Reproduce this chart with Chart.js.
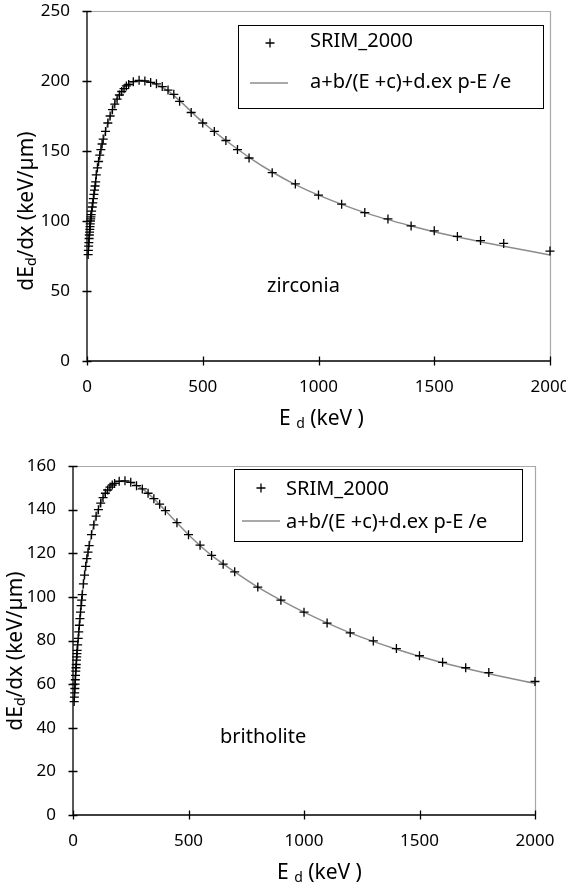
<!DOCTYPE html>
<html>
<head>
<meta charset="utf-8">
<script src="https://cdn.jsdelivr.net/npm/chart.js@4.4.1/dist/chart.umd.min.js"></script>
<style>
  body { margin: 0; background: #fff; width: 566px; height: 889px; position: relative; overflow: hidden; }
  canvas { position: absolute; left: 0; }
  #zirconiaChart { top: 0; }
  #britholiteChart { top: 440px; }
</style>
</head>
<body>
<canvas id="zirconiaChart" width="566" height="440"></canvas>
<canvas id="britholiteChart" width="566" height="449"></canvas>
<script>
// SRIM energies (keV)
const energy = [5, 6, 7, 8, 9, 10, 11, 12, 13, 14, 15, 16, 17, 18, 20, 22.5, 25, 27.5, 30, 32.5, 35, 37.5, 40, 45,
  50, 55, 60, 65, 70, 80, 90, 100, 110, 120, 130, 140, 150, 160, 170, 180, 200, 225, 250, 275, 300, 325, 350, 375,
  400, 450, 500, 550, 600, 650, 700, 800, 900, 1000, 1100, 1200, 1300, 1400, 1500, 1600, 1700, 1800, 2000];

// dEd/dx (keV/µm)
const zirconia = [76, 79, 82, 84.5, 87.5, 90, 92, 94, 96, 98, 100, 101.5, 103, 104.5, 107, 110, 113, 116, 119, 122, 125, 128, 133, 138,
  142.5, 147, 151, 155, 158.5, 164, 170, 175, 179.5, 183.5, 187, 190, 192.5, 194.5, 196.5, 197.5, 199.5, 200.5, 200, 199, 198, 196, 193.5, 190.5,
  185.5, 177.5, 170, 164, 157.5, 151, 145, 134.5, 126.5, 118.5, 112, 106, 101.5, 96.5, 93, 89, 86, 84, 78.5];

const britholite = [52, 54, 56, 58, 60, 62, 64, 66, 67.5, 69, 71, 72.5, 74, 75.5, 78, 81, 84, 87, 90, 93, 96, 98.5, 101, 106,
  110, 114, 117.5, 120.5, 123.5, 128.5, 133, 137, 140, 143, 145.5, 147.5, 149, 150.3, 151.3, 152, 153, 153.2, 152.5, 151, 149.5, 147.5, 145, 142.5,
  139.5, 134, 128.5, 123.7, 119, 115, 111.5, 104.5, 98.5, 93, 88, 83.5, 79.8, 76.3, 73, 70, 67.5, 65.3, 61.2];

// fitted curve a+b/(E+c)+d.exp(-E/e)
const fitEnergy = [5, 10, 15, 20, 30, 40, 50, 60, 80, 100, 125, 150, 175, 200, 250, 300, 350, 400, 500, 600, 700, 800, 900, 1000, 1200, 1400, 1600, 1800, 2000];
const zirconiaFit = [78, 89, 99, 106, 118.5, 132, 142, 150.5, 164, 175, 186, 193, 197.5, 199.5, 200, 197.5, 193, 186, 170.5, 157.5, 145.5, 135, 126, 118.5, 106, 96.5, 88.5, 82, 75.7];
const britholiteFit = [53, 62, 70, 77, 89.5, 101, 110, 117.5, 128.5, 137, 144.5, 149, 151.8, 153, 152.4, 149.5, 145, 139.5, 128.5, 119, 111.5, 104.5, 98.5, 93, 83.5, 76, 69.8, 64.8, 60.3];

const FONT = '"Noto Sans", sans-serif';

function pairs(xs, ys) {
  return xs.map((x, i) => ({ x: x, y: ys[i] }));
}

// text with a subscript "d"
function drawParts(ctx, parts, x, y, align) {
  let w = 0;
  parts.forEach(p => { ctx.font = p.size + 'px ' + FONT; w += ctx.measureText(p.t).width; });
  let cx = align === 'center' ? x - w / 2 : x;
  parts.forEach(p => {
    ctx.font = p.size + 'px ' + FONT;
    ctx.fillText(p.t, cx, y + (p.dy || 0));
    cx += ctx.measureText(p.t).width;
  });
}

const yTitle = [{ t: 'dE', size: 21 }, { t: 'd', size: 14, dy: 3 }, { t: '/dx (keV/µm)', size: 21 }];
const xTitle = [{ t: 'E ', size: 21 }, { t: 'd', size: 14, dy: 3 }, { t: ' (keV )', size: 21 }];

const decor = {
  id: 'decor',
  beforeDatasetsDraw(chart, args, o) {
    const ca = chart.chartArea, ctx = chart.ctx;
    ctx.save();
    ctx.strokeStyle = '#a8a8a8';
    ctx.lineWidth = 1.2;
    ctx.beginPath();
    ctx.moveTo(ca.left, ca.top + 0.5);
    ctx.lineTo(ca.right + 0.5, ca.top + 0.5);
    ctx.lineTo(ca.right + 0.5, ca.bottom);
    ctx.stroke();

    ctx.strokeStyle = '#000';
    ctx.lineWidth = 1.3;
    ctx.beginPath();
    ctx.moveTo(ca.left, ca.top);
    ctx.lineTo(ca.left, ca.bottom);
    ctx.lineTo(ca.right + 1, ca.bottom);
    const xs = chart.scales.x, ys = chart.scales.y;
    xs.ticks.forEach(t => {
      const px = Math.round(xs.getPixelForValue(t.value)) + 0.5;
      ctx.moveTo(px, ca.bottom - 4.5);
      ctx.lineTo(px, ca.bottom + 4.5);
    });
    ys.ticks.forEach(t => {
      const py = Math.round(ys.getPixelForValue(t.value)) + 0.5;
      ctx.moveTo(ca.left - 4.5, py);
      ctx.lineTo(ca.left + 4.5, py);
    });
    ctx.stroke();
    ctx.restore();
  },
  afterDraw(chart, args, o) {
    const ctx = chart.ctx;
    ctx.save();
    ctx.fillStyle = '#000';
    ctx.textBaseline = 'alphabetic';

    // axis titles
    ctx.save();
    ctx.translate(o.yTitle[0], o.yTitle[1]);
    ctx.rotate(-Math.PI / 2);
    drawParts(ctx, yTitle, 0, 0, 'center');
    ctx.restore();
    drawParts(ctx, xTitle, o.xTitle[0], o.xTitle[1], 'left');

    // material label
    ctx.font = '20px ' + FONT;
    ctx.fillText(o.label, o.labelPos[0], o.labelPos[1]);

    // legend
    const b = o.box;
    ctx.strokeStyle = '#000';
    ctx.lineWidth = 1;
    ctx.strokeRect(b[0] + 0.5, b[1] + 0.5, b[2] - b[0], b[3] - b[1]);
    ctx.lineWidth = 1.3;
    ctx.beginPath();
    ctx.moveTo(o.marker[0] - 4.5, o.marker[1]);
    ctx.lineTo(o.marker[0] + 4.5, o.marker[1]);
    ctx.moveTo(o.marker[0], o.marker[1] - 4.5);
    ctx.lineTo(o.marker[0], o.marker[1] + 4.5);
    ctx.stroke();
    ctx.strokeStyle = '#8c8c8c';
    ctx.lineWidth = 1.5;
    ctx.beginPath();
    ctx.moveTo(o.seg[0], o.seg[2]);
    ctx.lineTo(o.seg[1], o.seg[2]);
    ctx.stroke();
    ctx.font = '20px ' + FONT;
    ctx.fillText('SRIM_2000', o.textX, o.rows[0]);
    ctx.fillText('a+b/(E +c)+d.ex p-E /e', o.textX, o.rows[1]);
    ctx.restore();
  }
};

function makeChart(id, pts, fit, yMax, yStep, lay) {
  new Chart(document.getElementById(id), {
    type: 'scatter',
    data: {
      datasets: [{
        label: 'SRIM_2000',
        data: pairs(energy, pts),
        pointStyle: 'cross',
        pointRadius: 4.5,
        pointBorderWidth: 1.3,
        borderColor: '#000',
        backgroundColor: '#000',
        clip: false,
        order: 0
      }, {
        label: 'fit',
        data: pairs(fitEnergy, fit),
        showLine: true,
        pointRadius: 0,
        borderColor: '#8c8c8c',
        borderWidth: 1.5,
        cubicInterpolationMode: 'monotone',
        order: 1
      }]
    },
    options: {
      responsive: false,
      animation: false,
      layout: { padding: { left: 0, top: lay.top, right: lay.right, bottom: 0 } },
      plugins: { legend: { display: false }, tooltip: { enabled: false }, decor: lay },
      scales: {
        x: {
          type: 'linear', min: 0, max: 2000,
          ticks: { stepSize: 500, padding: 16, color: '#000', font: { size: 17, family: FONT }, maxRotation: 0,
            callback: v => String(v) },
          grid: { display: false, drawTicks: false },
          border: { display: false },
          afterFit(s) { s.height = lay.xh; s.paddingLeft = 0; s.paddingRight = 0; }
        },
        y: {
          min: 0, max: yMax,
          ticks: { stepSize: yStep, padding: 17, color: '#000', font: { size: 17, family: FONT },
            callback: v => String(v) },
          grid: { display: false, drawTicks: false },
          border: { display: false },
          afterFit(s) { s.width = lay.yw; s.paddingTop = 0; s.paddingBottom = 0; }
        }
      }
    },
    plugins: [decor]
  });
}

makeChart('zirconiaChart', zirconia, zirconiaFit, 250, 50, {
  top: 11, right: 16, xh: 79, yw: 87,
  yTitle: [33, 211], xTitle: [279, 425],
  label: 'zirconia', labelPos: [267, 292],
  box: [238, 25, 543, 108], marker: [270, 43], seg: [250, 288, 83], textX: 310, rows: [47, 88]
});

makeChart('britholiteChart', britholite, britholiteFit, 160, 20, {
  top: 26, right: 31, xh: 74, yw: 73,
  yTitle: [22, 211], xTitle: [277, 439],
  label: 'britholite', labelPos: [220, 303],
  box: [234, 29, 522, 101], marker: [261, 48], seg: [242, 280, 81], textX: 286, rows: [55, 88]
});
</script>
</body>
</html>
